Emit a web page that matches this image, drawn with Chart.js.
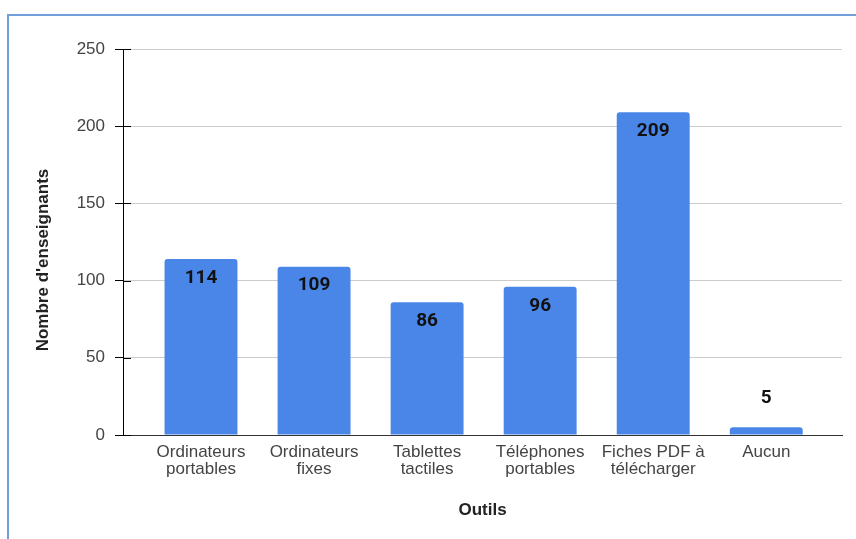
<!DOCTYPE html>
<html lang="fr">
<head>
    <meta charset="UTF-8">
    <title>Outils</title>
    <script src="https://cdn.jsdelivr.net/npm/chart.js"></script>
    <style>
        html, body {
            margin: 0;
            padding: 0;
            background: #ffffff;
        }
        .wrap {
            position: relative;
            width: 856px;
            height: 539px;
        }
        .frame {
            position: absolute;
            left: 7px;
            top: 14px;
            right: 0;
            bottom: 0;
            border-top: 2px solid #6fa0dc;
            border-left: 2px solid #6fa0dc;
            pointer-events: none;
        }
    </style>
</head>
<body>

<div class="wrap">
    <canvas id="toolsChart" width="856" height="539"></canvas>
    <div class="frame"></div>
</div>

<script>
    // Data
    const categories = [
        ['Ordinateurs', 'portables'],
        ['Ordinateurs', 'fixes'],
        ['Tablettes', 'tactiles'],
        ['Téléphones', 'portables'],
        ['Fiches PDF à', 'télécharger'],
        ['Aucun']
    ];
    const teachers = [114, 109, 86, 96, 209, 5];
    const yTicks = [0, 50, 100, 150, 200, 250];

    const FONT = "Arial, 'Liberation Sans', sans-serif";

    // value labels on the bars
    const valueLabels = {
        id: 'valueLabels',
        afterDatasetsDraw(chart) {
            const ctx = chart.ctx;
            const meta = chart.getDatasetMeta(0);
            ctx.save();
            ctx.font = "bold 19px Roboto, Arial, sans-serif";
            ctx.fillStyle = '#111111';
            ctx.textAlign = 'center';
            ctx.textBaseline = 'middle';
            meta.data.forEach((bar, i) => {
                const h = bar.base - bar.y;
                const y = h > 30 ? bar.y + 19 : bar.y - 29;
                ctx.fillText(String(teachers[i]), bar.x, y);
            });
            ctx.restore();
        }
    };

    // tick marks crossing the y axis and the y axis title
    const axisExtras = {
        id: 'axisExtras',
        afterDraw(chart) {
            const ctx = chart.ctx;
            const y = chart.scales.y;
            const left = chart.chartArea.left;
            ctx.save();
            ctx.strokeStyle = '#000000';
            ctx.lineWidth = 1;
            yTicks.forEach(t => {
                const py = Math.round(y.getPixelForValue(t)) + 0.5;
                ctx.beginPath();
                ctx.moveTo(left, py);
                ctx.lineTo(left + 8, py);
                ctx.stroke();
            });
            ctx.translate(43, 260);
            ctx.rotate(-Math.PI / 2);
            ctx.font = "bold 17px " + FONT;
            ctx.fillStyle = '#222222';
            ctx.textAlign = 'center';
            ctx.textBaseline = 'middle';
            ctx.fillText("Nombre d'enseignants", 0, 0);
            ctx.restore();
        }
    };

    const ctx = document.getElementById('toolsChart').getContext('2d');
    new Chart(ctx, {
        type: 'bar',
        data: {
            datasets: [{
                label: "Nombre d'enseignants",
                data: teachers.map((v, i) => ({ x: i, y: v })),
                backgroundColor: '#4a86e8',
                borderWidth: 0,
                borderRadius: { topLeft: 3, topRight: 3 },
                borderSkipped: 'bottom',
                categoryPercentage: 1,
                barPercentage: 0.645
            }]
        },
        options: {
            responsive: false,
            animation: false,
            layout: {
                padding: { left: 60, right: 14, top: 49, bottom: 0 }
            },
            plugins: {
                legend: { display: false },
                tooltip: { enabled: false }
            },
            scales: {
                x: {
                    type: 'linear',
                    offset: false,
                    min: -0.69,
                    max: 5.67,
                    afterBuildTicks: s => {
                        s.ticks = categories.map((_, i) => ({ value: i }));
                    },
                    afterFit: s => { s.height = 104; },
                    grid: { display: false, drawTicks: false, offset: false },
                    border: { display: true, color: '#333333', width: 1 },
                    ticks: {
                        autoSkip: false,
                        maxRotation: 0,
                        padding: 9,
                        color: '#444444',
                        font: { family: FONT, size: 17, lineHeight: 1.0 },
                        callback: v => categories[v]
                    },
                    title: {
                        display: true,
                        text: 'Outils',
                        color: '#222222',
                        font: { family: FONT, size: 17, weight: 'bold' },
                        padding: { top: 0, bottom: 18 }
                    }
                },
                y: {
                    min: 0,
                    max: 250,
                    afterFit: s => { s.width = 63; },
                    afterBuildTicks: s => {
                        s.ticks = yTicks.map(v => ({ value: v }));
                    },
                    grid: {
                        color: '#cccccc',
                        tickColor: '#000000',
                        tickLength: 8
                    },
                    border: { display: true, color: '#000000', width: 1 },
                    ticks: {
                        padding: 10,
                        color: '#444444',
                        font: { family: FONT, size: 17 }
                    }
                }
            }
        },
        plugins: [valueLabels, axisExtras]
    });
</script>

</body>
</html>
